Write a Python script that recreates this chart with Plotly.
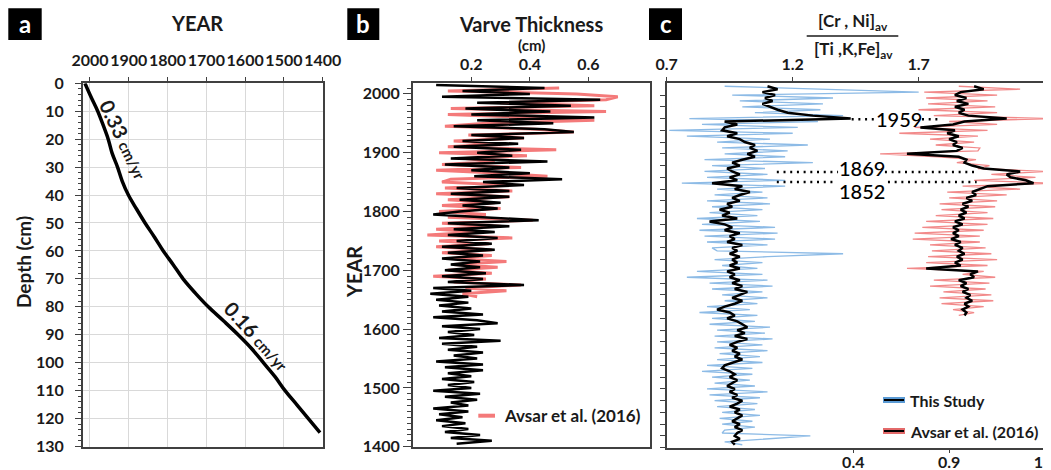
import plotly.graph_objects as go

# the page body adds an 8 px margin; the figure is sized so that it fills the 1051x470 window
OFF = 8
W, H = 1051 - OFF, 470 - OFF

# ---------------- data ----------------
# panel a: age-depth model
depth_cm = [0, 5, 10, 15, 20, 25, 30, 35, 40, 45, 50, 55, 60, 65, 70, 75, 80, 85, 90, 95, 100, 105, 110, 115, 120, 125]
depth_year = [2013, 1997, 1980, 1966, 1953, 1943, 1929, 1917, 1901, 1880, 1858, 1834, 1811, 1785, 1760, 1729,
              1695, 1656, 1618, 1583, 1553, 1523, 1497, 1467, 1437, 1407]
rate_labels = ["0.33", "0.16"]
year_ticks_a = [2000, 1900, 1800, 1700, 1600, 1500, 1400]
depth_ticks = [0, 10, 20, 30, 40, 50, 60, 70, 80, 90, 100, 110, 120, 130]

# panel b: varve thickness (cm)
years_study = list(range(2015, 1400, -5))          # 2015 ... 1405
thick_study = [
    0.08, 0.45, 0.17, 0.40, 0.10, 0.64, 0.22, 0.54, 0.18, 0.47,
    0.20, 0.62, 0.22, 0.48, 0.14, 0.45, 0.55, 0.20, 0.38, 0.17,
    0.36, 0.14, 0.37, 0.22, 0.34, 0.13, 0.46, 0.11, 0.33, 0.20,
    0.40, 0.21, 0.51, 0.24, 0.38, 0.15, 0.33, 0.13, 0.33, 0.16,
    0.30, 0.17, 0.29, 0.16, 0.07, 0.26, 0.43, 0.12, 0.33, 0.14,
    0.28, 0.12, 0.29, 0.15, 0.27, 0.10, 0.28, 0.12, 0.24, 0.10,
    0.23, 0.13, 0.23, 0.11, 0.25, 0.10, 0.24, 0.12, 0.38, 0.07,
    0.20, 0.06, 0.19, 0.08, 0.19, 0.09, 0.20, 0.10, 0.24, 0.07,
    0.22, 0.29, 0.10, 0.23, 0.12, 0.21, 0.09, 0.30, 0.10, 0.22,
    0.12, 0.24, 0.14, 0.22, 0.08, 0.24, 0.11, 0.24, 0.12, 0.20,
    0.10, 0.21, 0.12, 0.20, 0.07, 0.23, 0.11, 0.22, 0.13, 0.19,
    0.07, 0.19, 0.09, 0.17, 0.08, 0.18, 0.10, 0.19, 0.11, 0.23,
    0.13, 0.27, 0.15]
years_avsar_b = list(range(2010, 1650, -5))        # 2010 ... 1655
thick_avsar = [
    0.50, 0.12, 0.56, 0.70, 0.66, 0.30, 0.62, 0.13, 0.66, 0.12,
    0.40, 0.62, 0.25, 0.11, 0.42, 0.55, 0.19, 0.38, 0.14, 0.30,
    0.12, 0.49, 0.09, 0.39, 0.18, 0.28, 0.10, 0.37, 0.08, 0.30,
    0.46, 0.13, 0.10, 0.32, 0.11, 0.34, 0.08, 0.33, 0.12, 0.28,
    0.10, 0.30, 0.09, 0.25, 0.12, 0.41, 0.10, 0.30, 0.08, 0.23,
    0.05, 0.34, 0.09, 0.26, 0.08, 0.27, 0.10, 0.27, 0.13, 0.32,
    0.14, 0.29, 0.12, 0.27, 0.07, 0.25, 0.14, 0.37, 0.18, 0.32,
    0.17, 0.22]
thick_ticks = [0.2, 0.4, 0.6]
year_ticks_b = [1400, 1500, 1600, 1700, 1800, 1900, 2000]

# panel c: [Cr,Ni]/[Ti,K,Fe] ratio
ratio_study_raw = [
    0.93, 1.30, 1.70, 0.96, 1.36, 0.99, 1.32, 1.00, 1.31, 1.05,
    1.40, 0.79, 1.30, 0.84, 1.22, 0.71, 1.20, 0.78, 1.11, 0.90,
    1.26, 0.92, 1.18, 0.93, 1.17, 0.85, 1.28, 0.88, 1.09, 0.85,
    1.10, 0.86, 1.17, 0.76, 1.17, 0.90, 1.08, 0.89, 1.10, 0.86,
    1.11, 0.88, 1.08, 0.87, 1.06, 0.82, 1.07, 0.84, 1.13, 0.83,
    1.14, 0.85, 1.13, 0.86, 1.10, 0.88, 0.90, 1.40, 1.10, 0.89,
    1.08, 0.92, 1.06, 0.82, 1.08, 0.78, 1.10, 0.87, 1.12, 0.88,
    1.08, 0.92, 1.10, 0.93, 1.06, 0.86, 1.03, 0.83, 1.06, 0.88,
    1.05, 0.87, 1.11, 0.90, 1.09, 0.89, 1.12, 0.90, 1.08, 0.89,
    1.10, 0.91, 1.07, 0.90, 1.08, 0.86, 1.04, 0.84, 1.04, 0.88,
    1.03, 0.89, 1.05, 0.86, 1.10, 0.87, 1.07, 0.89, 1.06, 0.90,
    1.05, 0.92, 1.07, 0.91, 1.04, 0.92, 1.05, 0.93, 0.92, 1.27,
    1.10, 0.93, 1.00]
ratio_study_smooth = [
    1.10, 1.14, 1.08, 1.13, 1.09, 1.12, 1.08, 1.11, 1.14, 1.18,
    1.28, 1.43, 0.93, 0.98, 0.93, 0.92, 0.98, 0.94, 0.99, 1.01,
    1.05, 1.03, 1.06, 1.02, 1.05, 1.00, 0.96, 0.99, 0.94, 0.96,
    0.99, 0.95, 0.98, 0.88, 1.00, 0.97, 1.03, 0.99, 0.96, 0.99,
    0.94, 0.96, 0.91, 0.95, 0.92, 0.98, 0.87, 0.93, 0.96, 0.93,
    0.99, 0.95, 0.97, 0.94, 1.00, 0.96, 0.98, 0.95, 0.99, 0.96,
    0.98, 0.95, 0.99, 0.94, 0.97, 0.95, 0.99, 0.96, 1.00, 0.97,
    1.02, 0.99, 0.96, 1.00, 0.97, 0.93, 0.90, 0.95, 0.97, 0.94,
    0.98, 1.00, 1.02, 0.98, 1.01, 0.97, 1.02, 0.98, 0.95, 0.98,
    0.96, 0.99, 0.97, 1.00, 0.96, 0.93, 0.92, 0.95, 0.97, 0.95,
    0.98, 0.96, 0.94, 0.97, 0.95, 0.98, 0.96, 1.00, 0.98, 0.95,
    0.99, 0.97, 1.00, 0.98, 0.96, 0.99, 0.97, 1.00, 0.98, 0.97,
    0.99, 0.96, 0.97]
years_avsar_c = list(range(2015, 1620, -5))        # 2015 ... 1625
ratio_avsar_raw = [
    0.95, 1.27, 0.77, 1.15, 0.78, 1.10, 0.79, 1.14, 0.74, 1.15,
    0.82, 1.43, 0.90, 1.15, 0.72, 1.10, 0.64, 1.05, 0.80, 1.03,
    0.83, 1.06, 1.05, 0.54, 0.84, 1.04, 0.94, 1.11, 1.05, 1.40,
    1.12, 1.35, 1.03, 1.43, 0.97, 1.27, 0.89, 1.20, 0.90, 1.15,
    0.85, 1.14, 0.86, 1.10, 0.83, 1.13, 0.78, 1.10, 0.76, 1.08,
    0.72, 1.06, 0.71, 1.06, 0.80, 1.09, 0.81, 1.12, 0.79, 1.15,
    0.78, 1.10, 0.68, 1.08, 0.97, 1.14, 0.82, 1.11, 0.80, 1.09,
    0.87, 1.12, 0.85, 1.13, 0.86, 1.08, 0.92, 1.03, 0.95]
ratio_avsar_smooth = [
    1.03, 1.08, 0.96, 0.93, 0.99, 0.94, 1.00, 0.93, 0.98, 0.95,
    1.00, 1.20, 0.98, 0.92, 0.75, 0.93, 0.89, 0.95, 0.90, 0.94,
    0.92, 0.97, 0.94, 0.68, 0.95, 0.99, 0.98, 1.02, 1.08, 1.27,
    1.20, 1.22, 1.30, 1.34, 1.10, 1.06, 1.02, 1.04, 0.99, 1.02,
    0.97, 1.00, 0.96, 0.99, 0.95, 0.98, 0.93, 0.97, 0.92, 0.95,
    0.92, 0.95, 0.91, 0.96, 0.93, 0.97, 0.95, 0.98, 0.94, 0.97,
    0.93, 0.96, 0.78, 1.05, 1.01, 1.03, 0.95, 0.99, 0.96, 1.00,
    0.97, 1.01, 0.99, 1.02, 0.98, 1.00, 0.97, 0.99, 0.98]
ratio_top_ticks = [0.7, 1.2, 1.7]
ratio_bottom_ticks = [0.4, 0.9, 1.4]
events = [1959, 1869, 1852]

# ---------------- styling helpers (window pixel -> paper) ----------------
def PX(x):
    return (x - OFF) / W


def PY(y):
    return 1 - (y - OFF) / H


FONT = "Lato"
AX = "#404040"
TICKFONT = dict(family=FONT, size=16, color="#1a1a1a", weight="bold")
BLACK = "#000000"
RED = "#f47a7a"
RED_THIN = "#f28a8a"
BLUE_THIN = "#8dbbe6"

fig = go.Figure()

# panel a
fig.add_trace(go.Scatter(x=depth_year, y=depth_cm, mode="lines", xaxis="x", yaxis="y",
                         line=dict(color=BLACK, width=3.5, shape="spline"), showlegend=False))
# panel b
fig.add_trace(go.Scatter(x=thick_avsar, y=years_avsar_b, mode="lines", xaxis="x2", yaxis="y2",
                         line=dict(color=RED, width=3), showlegend=False))
fig.add_trace(go.Scatter(x=thick_study, y=years_study, mode="lines", xaxis="x2", yaxis="y2",
                         line=dict(color=BLACK, width=2.5), showlegend=False))
# panel c
fig.add_trace(go.Scatter(x=ratio_study_raw, y=years_study, mode="lines", xaxis="x3", yaxis="y3",
                         line=dict(color=BLUE_THIN, width=1.3), showlegend=False))
fig.add_trace(go.Scatter(x=ratio_study_smooth, y=years_study, mode="lines", xaxis="x3", yaxis="y3",
                         line=dict(color=BLACK, width=2.5), showlegend=False))
fig.add_trace(go.Scatter(x=ratio_avsar_raw, y=years_avsar_c, mode="lines", xaxis="x4", yaxis="y3",
                         line=dict(color=RED_THIN, width=1.3), showlegend=False))
fig.add_trace(go.Scatter(x=ratio_avsar_smooth, y=years_avsar_c, mode="lines", xaxis="x4", yaxis="y3",
                         line=dict(color=BLACK, width=2.5), showlegend=False))

common_line = dict(showline=True, linecolor=AX, linewidth=1.5, zeroline=False, tickcolor=AX,
                   tickfont=TICKFONT, automargin=False, tickangle=0, ticklabeloverflow="allow")

fig.update_layout(
    width=W, height=H, margin=dict(l=0, r=0, t=0, b=0, pad=0, autoexpand=False),
    paper_bgcolor="white", plot_bgcolor="white",
    xaxis=dict(domain=[PX(82.7), PX(322.7)], anchor="y", side="top", range=[2018.8, 1400],
               tickvals=year_ticks_a, ticks="outside", ticklen=5, mirror=True,
               showgrid=True, gridcolor="#d9d9d9", gridwidth=1, ticklabelstandoff=4, **common_line),
    yaxis=dict(domain=[PY(446.5), PY(83.3)], anchor="x", range=[130, 0],
               tickvals=depth_ticks, ticks="outside", ticklen=6, mirror=True,
               minor=dict(dtick=2, tick0=0, ticks="outside", ticklen=3, tickcolor=AX, showgrid=False),
               showgrid=True, gridcolor="#d9d9d9", gridwidth=1, ticklabelstandoff=8, **common_line),
    xaxis2=dict(domain=[PX(412.7), PX(650)], anchor="y2", side="top", range=[0, 0.81],
                tickvals=thick_ticks, ticktext=[f"{v:.1f}" for v in thick_ticks],
                ticks="outside", ticklen=5, mirror=True, showgrid=False, **common_line),
    yaxis2=dict(domain=[PY(446.7), PY(83.3)], anchor="x2", range=[1400, 2018],
                tickvals=year_ticks_b, ticks="outside", ticklen=8, mirror=True,
                minor=dict(dtick=10, tick0=1400, ticks="outside", ticklen=4, tickcolor=AX, showgrid=False),
                showgrid=False, **common_line),
    xaxis3=dict(domain=[PX(666.7), 1.0], anchor="y3", side="top", range=[0.7, 2.225],
                tickvals=ratio_top_ticks, ticktext=[f"{v:.1f}" for v in ratio_top_ticks],
                ticks="outside", ticklen=5, showgrid=False, **common_line),
    xaxis4=dict(overlaying="x3", anchor="y3", side="bottom", range=[-0.573, 1.431],
                tickvals=ratio_bottom_ticks, ticktext=[f"{v:.1f}" for v in ratio_bottom_ticks],
                ticks="outside", ticklen=4, showgrid=False, ticklabelstandoff=-5, **common_line),
    yaxis3=dict(domain=[PY(447.7), PY(83.3)], anchor="x3", range=[1400, 2020],
                tickvals=list(range(1400, 2020, 20)), showticklabels=False,
                ticks="outside", ticklen=5, showgrid=False, **common_line),
)

ann = []
shapes = []


def txt(x, y, s, size, bold=True, color="#1a1a1a", angle=0, xanchor="center"):
    ann.append(dict(x=x, y=y, xref="paper", yref="paper", text=s,
                    showarrow=False, textangle=angle, xanchor=xanchor, yanchor="middle",
                    font=dict(family=FONT, size=size, color=color, weight="bold" if bold else "normal")))


# titles
txt(PX(196.7), PY(23.3), "YEAR", 20)
txt(PX(530.7), PY(24), "Varve Thickness", 20)
txt(PX(531.7), PY(45), "(cm)", 15)
txt(PX(853), PY(22), "[Cr , Ni]<sub>av</sub>", 17)
txt(PX(853), PY(50), "[Ti ,K,Fe]<sub>av</sub>", 17)
shapes.append(dict(type="line", xref="paper", yref="paper", x0=PX(806.7), x1=PX(898.3),
                   y0=PY(36), y1=PY(36), line=dict(color="#1a1a1a", width=1.5)))
txt(PX(23), PY(262), "Depth (cm)", 19, angle=-90)
txt(PX(354), PY(272), "YEAR", 20, angle=-90)

# panel letters
for letter, x0, x1 in [("a", 8.3, 41.7), ("b", 347.3, 379.3), ("c", 649, 682)]:
    shapes.append(dict(type="rect", xref="paper", yref="paper", x0=PX(x0), x1=PX(x1),
                       y0=PY(40), y1=PY(8.3), fillcolor="black", line=dict(width=0)))
    txt(PX((x0 + x1) / 2), PY(23.5), letter, 24, color="white")

# sedimentation-rate labels
txt(PX(124), PY(139), rate_labels[0] + " <span style='font-size:15px'>cm/yr</span>", 20, angle=64)
txt(PX(257.5), PY(335.5), rate_labels[1] + " <span style='font-size:15px'>cm/yr</span>", 20, angle=47.5)

# event markers (dotted lines in top-axis units of panel c)
ev_geom = [
    # (left x0, left x1, right x0, right x1, text x, text yshift)
    (1.434, 1.531, 1.713, 1.785, 1.622, 0),
    (1.137, 1.380, 1.566, 1.930, 1.473, 4),
    (1.137, 1.372, 1.578, 1.930, 1.475, -9),
]
for ev, (a0, a1, b0, b1, tx, ys) in zip(events, ev_geom):
    for x0, x1 in [(a0, a1), (b0, b1)]:
        shapes.append(dict(type="line", xref="x3", yref="y3", x0=x0, x1=x1, y0=ev, y1=ev,
                           line=dict(color="black", width=2.5, dash="2px,4.7px")))
    ann.append(dict(x=tx, y=ev, xref="x3", yref="y3", text=str(ev), showarrow=False, yshift=ys,
                    font=dict(family=FONT, size=20, color="black", weight=500),
                    xanchor="center", yanchor="middle"))

# legends (drawn manually)
shapes.append(dict(type="line", xref="paper", yref="paper", x0=PX(478.3), x1=PX(495), y0=PY(415.7),
                   y1=PY(415.7), line=dict(color=RED, width=4)))
txt(PX(502), PY(415.7), "Avsar et al. (2016)", 17, xanchor="left")

for yy, col, label in [(400, "#5b9bd5", "This Study"), (431, "#e36a6a", "Avsar et al. (2016)")]:
    shapes.append(dict(type="line", xref="paper", yref="paper", x0=PX(883), x1=PX(905), y0=PY(yy),
                       y1=PY(yy), line=dict(color=col, width=6)))
    shapes.append(dict(type="line", xref="paper", yref="paper", x0=PX(884), x1=PX(904), y0=PY(yy),
                       y1=PY(yy), line=dict(color="black", width=2)))
    txt(PX(908), PY(yy), label, 16, xanchor="left")

fig.update_layout(annotations=ann, shapes=shapes)
fig.write_html("out.html")
